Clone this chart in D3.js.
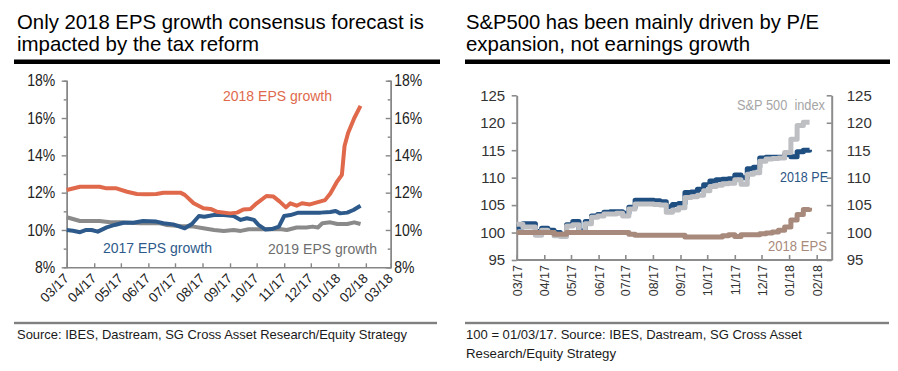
<!DOCTYPE html>
<html><head><meta charset="utf-8">
<script src="https://cdnjs.cloudflare.com/ajax/libs/d3/7.8.5/d3.min.js"></script>
<style>body{margin:0;background:#fff}svg{display:block;font-family:"Liberation Sans",Arial,sans-serif}</style>
</head><body><svg id="c" width="898" height="371"></svg>
<script>
// ---------- DATA ----------
// Left chart: consensus EPS growth forecasts (%)
const eps2018Growth = [
 ["2017-03-01",12.14],["2017-03-16",12.32],["2017-04-07",12.32],["2017-04-15",12.23],["2017-04-26",12.23],
 ["2017-05-08",12.05],["2017-05-19",11.93],["2017-05-30",11.91],["2017-06-10",11.93],["2017-06-18",12.0],
 ["2017-07-07",12.0],["2017-07-12",11.88],["2017-07-22",11.43],["2017-08-02",11.16],["2017-08-10",11.13],
 ["2017-08-17",10.98],["2017-09-01",10.89],["2017-09-09",10.93],["2017-09-16",11.1],["2017-09-24",11.13],
 ["2017-10-01",11.43],["2017-10-12",11.82],["2017-10-20",11.79],["2017-10-27",11.52],["2017-11-03",11.21],
 ["2017-11-08",11.43],["2017-11-15",11.3],["2017-11-21",11.43],["2017-11-30",11.37],["2017-12-11",11.52],
 ["2017-12-17",11.6],["2017-12-23",11.96],["2017-12-30",12.55],["2018-01-05",12.95],["2018-01-08",14.5],
 ["2018-01-12",15.2],["2018-01-19",16.0],["2018-01-26",16.65]
];
const eps2017Growth = [
 ["2017-03-01",10.0],["2017-03-08",9.96],["2017-03-16",9.88],["2017-03-23",10.0],["2017-03-29",10.0],
 ["2017-04-05",9.91],["2017-04-15",10.14],["2017-04-24",10.27],["2017-05-04",10.39],["2017-05-15",10.39],
 ["2017-05-26",10.48],["2017-06-10",10.45],["2017-06-18",10.36],["2017-06-29",10.3],["2017-07-12",10.09],
 ["2017-07-20",10.32],["2017-07-28",10.75],["2017-08-03",10.71],["2017-08-14",10.8],["2017-08-25",10.8],
 ["2017-09-05",10.75],["2017-09-13",10.54],["2017-09-20",10.63],["2017-09-28",10.54],["2017-10-03",10.27],
 ["2017-10-11",10.02],["2017-10-18",10.05],["2017-10-26",10.18],["2017-11-01",10.75],["2017-11-08",10.8],
 ["2017-11-17",10.93],["2017-12-01",10.93],["2017-12-12",10.93],["2017-12-23",10.96],["2017-12-29",11.02],
 ["2018-01-03",10.89],["2018-01-11",10.93],["2018-01-18",11.07],["2018-01-26",11.3]
];
const eps2019Growth = [
 ["2017-03-01",10.68],["2017-03-16",10.48],["2017-04-07",10.48],["2017-04-19",10.41],["2017-04-30",10.41],
 ["2017-05-23",10.36],["2017-06-14",10.36],["2017-06-21",10.27],["2017-07-07",10.21],["2017-07-22",10.18],
 ["2017-08-02",10.09],["2017-08-14",10.0],["2017-08-25",9.95],["2017-09-05",10.0],["2017-09-13",9.95],
 ["2017-09-22",10.04],["2017-10-05",10.04],["2017-10-27",10.05],["2017-11-04",10.0],["2017-11-15",10.13],
 ["2017-11-26",10.13],["2017-12-03",10.18],["2017-12-09",10.13],["2017-12-14",10.36],["2017-12-23",10.41],
 ["2017-12-31",10.32],["2018-01-11",10.32],["2018-01-19",10.41],["2018-01-26",10.32]
];
const leftTicksY = [8,10,12,14,16,18];
const leftMinorY = [9,11,13,15,17];
const leftMonths = ["2017-03-01","2017-04-01","2017-05-01","2017-06-01","2017-07-01","2017-08-01","2017-09-01",
 "2017-10-01","2017-11-01","2017-12-01","2018-01-01","2018-02-01","2018-03-01"];

// Right chart: rebased to 100 = 01/03/17, weekly observations from 2017-03-01
const weekStart = "2017-03-01";
const sp500Index = [101.5,101.0,101.0,99.5,100.4,100.0,99.4,99.3,101.2,101.4,100.0,101.6,102.8,103.0,103.4,103.4,
 103.5,103.0,104.3,105.2,105.2,105.2,105.1,105.0,103.7,104.1,104.5,106.4,106.5,106.8,107.6,108.4,108.6,108.9,
 109.0,109.6,108.8,110.6,110.9,113.0,113.4,113.5,113.6,114.6,117.0,119.5,120.1,120.1];
const pe2018 = [101.0,101.6,101.6,100.2,100.8,100.4,100.0,99.6,101.4,102.0,100.3,102.0,103.0,103.3,103.7,103.8,
 103.8,103.5,104.6,105.9,105.9,105.9,105.8,105.6,104.7,105.1,105.3,107.3,107.4,107.9,108.7,109.4,109.6,109.7,
 109.8,110.5,110.0,111.6,111.9,113.6,113.7,113.7,113.7,114.2,113.8,114.7,115.0,115.1];
const eps2018Index = [100,100,100,100,100,100,99.7,99.7,100,100,100,100,100,100,100,100,100,100,99.7,99.5,99.5,
 99.5,99.5,99.5,99.5,99.5,99.5,99.2,99.2,99.2,99.2,99.2,99.2,99.4,99.6,99.3,99.6,99.6,99.6,99.8,99.9,100.1,100.4,
 101.0,102.3,103.3,104.2,104.5];
const rightTicksY = [95,100,105,110,115,120,125];
const rightMonths = ["2017-03-01","2017-04-01","2017-05-01","2017-06-01","2017-07-01","2017-08-01","2017-09-01",
 "2017-10-01","2017-11-01","2017-12-01","2018-01-01","2018-02-01"];

// ---------- DRAW ----------
const parse = d3.utcParse("%Y-%m-%d");
const fmt = d3.utcFormat("%m/%y");
const svg = d3.select("#c");
svg.append("rect").attr("width",898).attr("height",371).attr("fill","#fff");

function txt(x, y, s, size, width, color){
  const t = svg.append("text").attr("x",x).attr("y",y).attr("font-size",size)
    .attr("fill",color||"#000").text(s);
  if (width) t.attr("textLength",width).attr("lengthAdjust","spacingAndGlyphs");
  return t;
}
function squeeze(sel, k){
  sel.each(function(){ const w=this.getComputedTextLength();
    d3.select(this).attr("textLength",w*k).attr("lengthAdjust","spacingAndGlyphs"); });
}

// Titles
txt(17,29,"Only 2018 EPS growth consensus forecast is",21,407,"#000");
txt(17,51,"impacted by the tax reform",21,242,"#000");
txt(466,29,"S&P500 has been mainly driven by P/E",21,353,"#000");
txt(466,51,"expansion, not earnings growth",21,284,"#000");
svg.append("rect").attr("x",14).attr("y",59.5).attr("width",426).attr("height",4.5).attr("fill","#000");
svg.append("rect").attr("x",465).attr("y",59.5).attr("width",425).attr("height",4.5).attr("fill","#000");

// Footers
svg.append("rect").attr("x",14).attr("y",321.8).attr("width",423).attr("height",2.4).attr("fill","#808080");
svg.append("rect").attr("x",465).attr("y",321.8).attr("width",424).attr("height",2.4).attr("fill","#808080");
txt(17,339,"Source: IBES, Dastream, SG Cross Asset Research/Equity Strategy",13,390,"#1a1a1a");
txt(466,339,"100 = 01/03/17. Source: IBES, Dastream, SG Cross Asset",13,336,"#1a1a1a");
txt(466,358,"Research/Equity Strategy",13,150,"#1a1a1a");

// ===== Left chart =====
const AX = "#868686";
const xL = d3.scaleUtc().domain([parse("2017-03-01"), parse("2018-03-01")]).range([66.7,390.7]);
const yL = d3.scaleLinear().domain([8,18]).range([267.3,80.7]);
function styleAxis(g, w){
  g.selectAll(".domain").attr("stroke",AX).attr("stroke-width",w);
  g.selectAll(".tick line").attr("stroke",AX).attr("stroke-width",w);
  g.selectAll("text").attr("fill","#222").attr("font-family","'Liberation Sans',Arial,sans-serif");
}
svg.append("g").attr("transform","translate(66.7,0)")
  .call(d3.axisLeft(yL).tickValues(leftMinorY).tickSize(3).tickFormat("")).call(g=>styleAxis(g,1.4));
svg.append("g").attr("transform","translate(390.7,0)")
  .call(d3.axisRight(yL).tickValues(leftMinorY).tickSize(-3).tickFormat("")).call(g=>styleAxis(g,1.4));
const gLy = svg.append("g").attr("transform","translate(66.7,0)")
  .call(d3.axisLeft(yL).tickValues(leftTicksY).tickSize(5).tickSizeOuter(0).tickPadding(6.5).tickFormat(d=>d+"%"));
styleAxis(gLy,1.4); gLy.selectAll("text").attr("font-size",16); squeeze(gLy.selectAll("text"),0.875);
const gRy = svg.append("g").attr("transform","translate(390.7,0)")
  .call(d3.axisRight(yL).tickValues(leftTicksY).tickSize(-5).tickSizeOuter(0).tickPadding(3.5).tickFormat(d=>d+"%"));
styleAxis(gRy,1.4); gRy.selectAll("text").attr("font-size",16); squeeze(gRy.selectAll("text"),0.875);
const gLx = svg.append("g").attr("transform","translate(0,267.3)")
  .call(d3.axisBottom(xL).tickValues(leftMonths.map(parse)).tickSize(-4).tickSizeOuter(0).tickFormat(fmt));
styleAxis(gLx,1.4);
gLx.selectAll("text").attr("font-size",13.5).attr("text-anchor","end").attr("dy",null).attr("y",null)
  .attr("transform","translate(2.5,12) rotate(-45)");

const lineL = d3.line().x(d=>xL(parse(d[0]))).y(d=>yL(d[1])).curve(d3.curveLinear);
[[eps2019Growth,"#8A8A8A"],[eps2017Growth,"#2D5A8A"],[eps2018Growth,"#E0694C"]].forEach(([data,c])=>{
  svg.append("path").datum(data).attr("d",lineL).attr("fill","none").attr("stroke",c)
    .attr("stroke-width",4).attr("stroke-linejoin","round");
});
txt(223,100.5,"2018 EPS growth",15,109,"#E0694C");
txt(103,252.5,"2017 EPS growth",15,109,"#2D5A8A");
txt(268,254,"2019 EPS growth",15,109,"#6E6E6E");

// ===== Right chart =====
const AX2 = "#8C8C8C";
const xR = d3.scaleUtc().domain([parse("2017-03-01"), parse("2018-02-01")]).range([516.7,816.7]);
const yR = d3.scaleLinear().domain([95,125]).range([260,95.3]);
const weeks = d3.utcDay.range(parse(weekStart), d3.utcDay.offset(parse(weekStart), 7*sp500Index.length), 7);
function styleAxis2(g){
  g.selectAll(".domain").attr("stroke",AX2).attr("stroke-width",2);
  g.selectAll(".tick line").attr("stroke",AX2).attr("stroke-width",1.6);
  g.selectAll("text").attr("fill","#333").attr("font-family","'Liberation Sans',Arial,sans-serif");
}
const gRly = svg.append("g").attr("transform","translate(516.7,0)")
  .call(d3.axisLeft(yR).tickValues(rightTicksY).tickSize(5).tickSizeOuter(0).tickPadding(6.5));
styleAxis2(gRly); gRly.selectAll("text").attr("font-size",15);
const gRry = svg.append("g").attr("transform","translate(831.7,0)")
  .call(d3.axisRight(yR).tickValues(rightTicksY).tickSize(-5).tickSizeOuter(0).tickPadding(15));
styleAxis2(gRry); gRry.selectAll("text").attr("font-size",15);
const gRx = svg.append("g").attr("transform","translate(0,260)")
  .call(d3.axisBottom(xR).tickValues(rightMonths.map(parse)).tickSize(-5).tickSizeOuter(0).tickFormat(fmt));
styleAxis2(gRx);
gRx.select(".domain").remove();
svg.append("line").attr("x1",516.7).attr("x2",831.7).attr("y1",260).attr("y2",260).attr("stroke",AX2).attr("stroke-width",2);
gRx.selectAll("text").attr("font-size",12.5).attr("text-anchor","end").attr("dy",null).attr("y",null)
  .attr("transform","translate(4.5,5) rotate(-90)");

const lineR = d3.line().x((d,i)=>xR(weeks[i])).y(d=>yR(d)).curve(d3.curveStepAfter);
[[pe2018,"#1F4E80"],[sp500Index,"#BEBFC3"],[eps2018Index,"#A88A7C"]].forEach(([data,c])=>{
  svg.append("path").datum(data).attr("d",lineR).attr("fill","none").attr("stroke",c)
    .attr("stroke-width",5).attr("stroke-linejoin","round");
});
txt(737,110,"S&P 500  index",14,88,"#A6A6A6").attr("xml:space","preserve").style("white-space","pre");
txt(780,182,"2018 PE",14,48,"#2B5585");
txt(768,251,"2018 EPS",14,59,"#A88A7C");
</script></body></html>
